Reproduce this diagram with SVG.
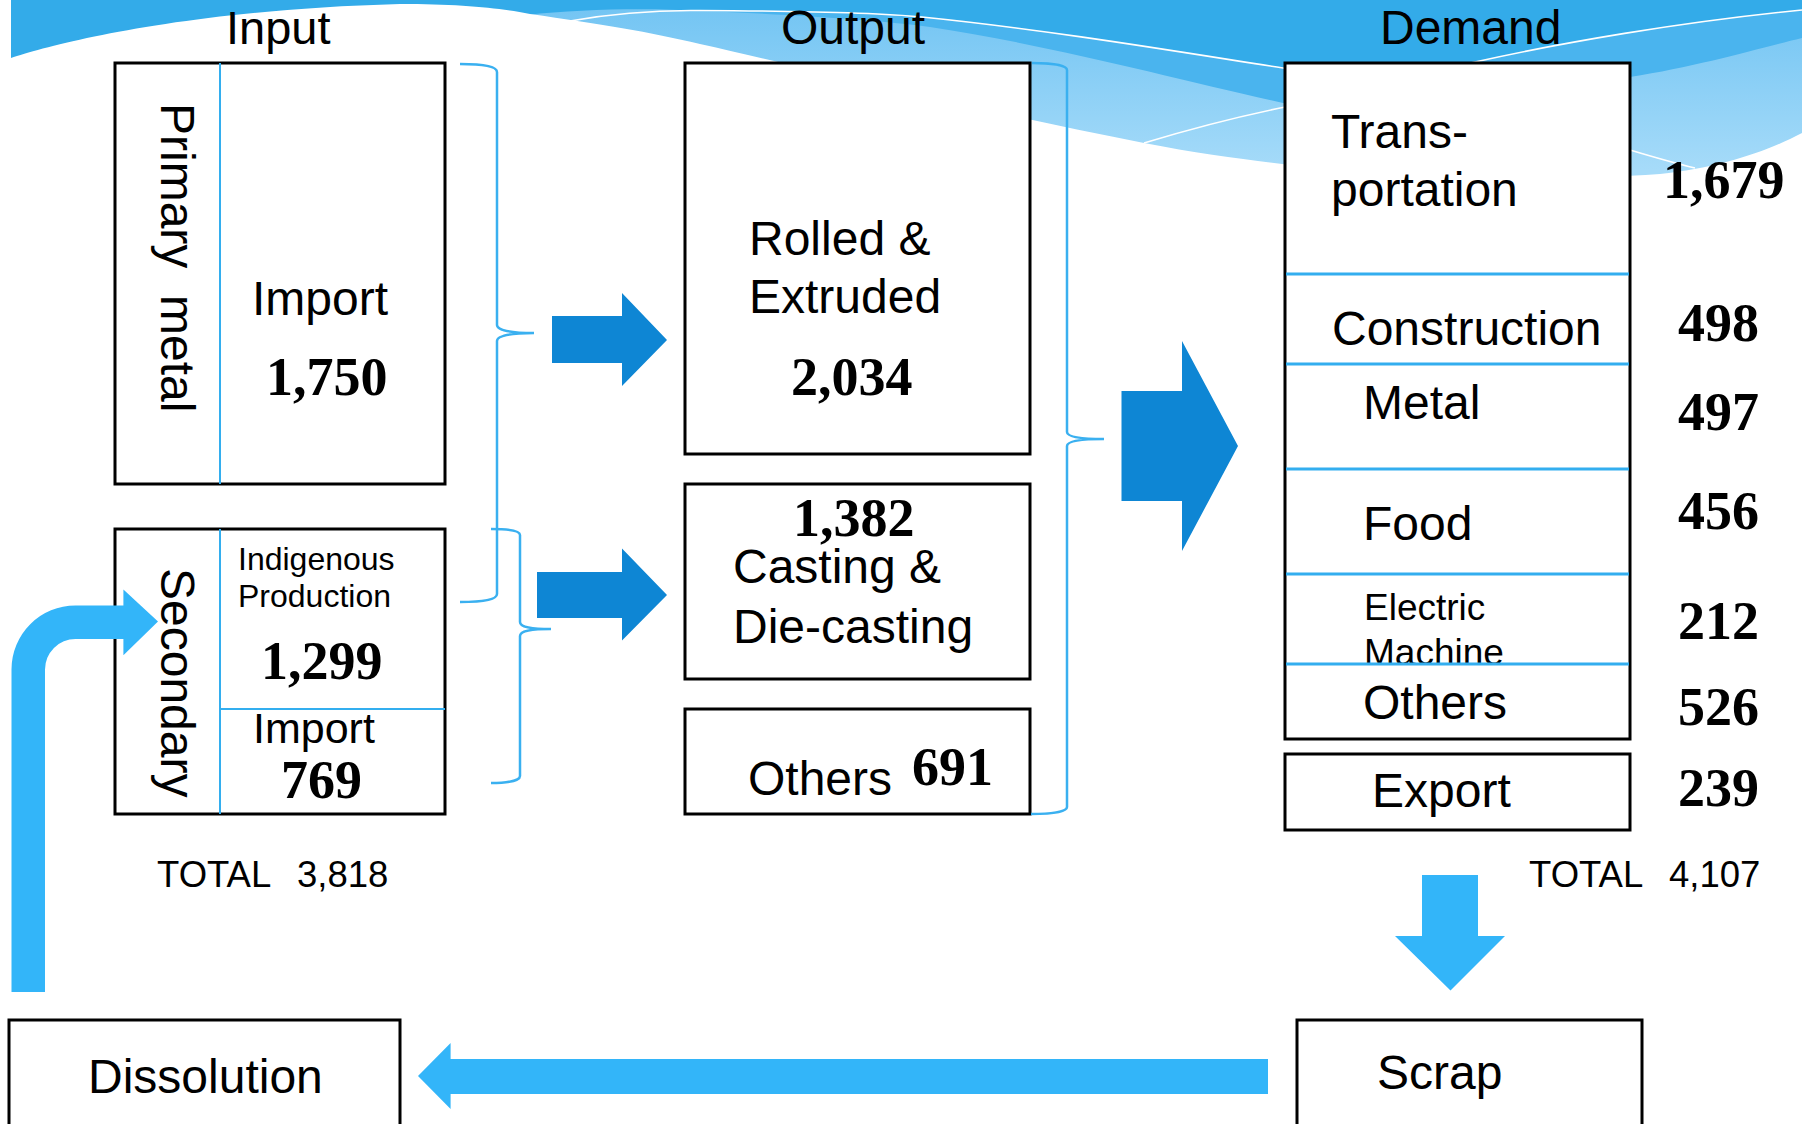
<svg xmlns="http://www.w3.org/2000/svg" width="1802" height="1124" viewBox="0 0 1802 1124">
<defs>
<linearGradient id="lg" gradientUnits="userSpaceOnUse" x1="0" y1="10" x2="0" y2="170">
<stop offset="0" stop-color="#74C5F3"/><stop offset="1" stop-color="#A6DBF9"/>
</linearGradient>
<style>
.box{fill:#fff;stroke:#000;stroke-width:3}
.sep{stroke:#33AEEF;stroke-width:3;fill:none}
.thin{stroke:#33AEEF;stroke-width:2;fill:none}
.brace{stroke:#3AB0F0;stroke-width:2.5;fill:none}
.t{font-family:"Liberation Sans",Arial,sans-serif;font-size:48px;fill:#000}
.s{font-size:32px}
.m{font-size:37px}
.tot{font-size:36.5px}
.n{font-family:"Liberation Serif","Times New Roman",serif;font-weight:bold;font-size:54px;fill:#000}
.dark{fill:#0E86D4}
.light{fill:#33B5F9}
.wl{fill:none;stroke:#fff;stroke-width:1.6}
</style>
</defs>
<rect x="0" y="0" width="1802" height="1124" fill="#fff"/>
<g id="banner">
<rect x="11" y="0" width="1791" height="300" fill="#33ABE9"/>
<path d="M570,21 C620,12 660,10 700,10.5 C800,11 880,13 922,17 C1050,30 1180,52 1283,68 C1350,78 1420,76 1475,62 C1560,43 1680,22 1802,10 V300 H570 Z" fill="#4AB4EE"/>
<path d="M527,15 C580,9 650,8 700,11 C780,14 880,20 930,27 C1050,45 1180,80 1283,103 C1400,110 1530,92 1630,77 C1700,66 1760,48 1802,38 V300 H527 Z" fill="url(#lg)"/>
<path d="M11,58 C50,45 180,10 400,4 C460,4 500,8 530,14 C600,24 650,32 700,44 C800,66 950,105 1144,143 C1200,154 1250,160 1290,165 C1400,178 1550,182 1660,174 C1720,168 1770,150 1802,133 V300 H0 V0 H11 Z" fill="#fff"/>
<path class="wl" d="M570,21 C620,12 660,10 700,10.5 C800,11 880,13 922,17 C1050,30 1180,52 1283,68 C1350,78 1420,76 1475,62 C1560,43 1680,22 1802,10"/>
<path class="wl" d="M1144,143 C1200,126 1250,114 1290,106"/>
<path class="wl" d="M1630,150 C1650,156 1670,162 1695,168"/>
</g>
<g id="headers">
<text class="t" x="226" y="44" style="font-size:47px">Input</text>
<text class="t" x="781" y="44">Output</text>
<text class="t" x="1380" y="44">Demand</text>
</g>
<g id="primary">
<rect class="box" x="115" y="63" width="330" height="421"/>
<line class="thin" x1="220" y1="63" x2="220" y2="484"/>
<text class="t" transform="translate(161,103) rotate(90)" xml:space="preserve" style="font-size:48px;white-space:pre">Primary  metal</text>
<text class="t" x="252" y="315">Import</text>
<text class="n" x="266" y="395">1,750</text>
</g>
<g id="secondary">
<rect class="box" x="115" y="529" width="330" height="285"/>
<line class="thin" x1="220" y1="529" x2="220" y2="814"/>
<line class="thin" x1="220" y1="709" x2="445" y2="709"/>
<text class="t" transform="translate(161,568) rotate(90)" style="font-size:48px">Secondary</text>
<text class="t s" x="238" y="570">Indigenous</text>
<text class="t s" x="238" y="607">Production</text>
<text class="n" x="261" y="679">1,299</text>
<text class="t" x="253" y="743" style="font-size:43px">Import</text>
<text class="n" x="281" y="798">769</text>
</g>
<g id="input-total">
<text class="t tot" x="157" y="887">TOTAL<tspan x="297">3,818</tspan></text>
</g>
<g id="rolled">
<rect class="box" x="685" y="63" width="345" height="391"/>
<text class="t" x="749" y="255">Rolled &amp;</text>
<text class="t" x="749" y="313">Extruded</text>
<text class="n" x="791" y="395">2,034</text>
</g>
<g id="casting">
<rect class="box" x="685" y="484" width="345" height="195"/>
<text class="n" x="793" y="536">1,382</text>
<text class="t" x="733" y="583">Casting &amp;</text>
<text class="t" x="733" y="643">Die-casting</text>
</g>
<g id="output-others">
<rect class="box" x="685" y="709" width="345" height="105"/>
<text class="t" x="748" y="795">Others</text>
<text class="n" x="912" y="785">691</text>
</g>
<g id="demand">
<rect class="box" x="1285" y="63" width="345" height="676"/>
<text class="t" x="1331" y="148">Trans-</text>
<text class="t" x="1331" y="206">portation</text>
<text class="t" x="1332" y="345">Construction</text>
<text class="t" x="1363" y="419">Metal</text>
<text class="t" x="1363" y="540">Food</text>
<text class="t m" x="1364" y="620">Electric</text>
<text class="t m" x="1364" y="665">Machine</text>
<text class="t" x="1363" y="719">Others</text>
<line class="sep" x1="1286" y1="274" x2="1629" y2="274"/>
<line class="sep" x1="1286" y1="364" x2="1629" y2="364"/>
<line class="sep" x1="1286" y1="469" x2="1629" y2="469"/>
<line class="sep" x1="1286" y1="574" x2="1629" y2="574"/>
<line class="sep" x1="1286" y1="664" x2="1629" y2="664"/>
</g>
<g id="export">
<rect class="box" x="1285" y="754" width="345" height="76"/>
<text class="t" x="1372" y="807">Export</text>
</g>
<g id="demand-values">
<text class="n" x="1663" y="198">1,679</text>
<text class="n" x="1678" y="341">498</text>
<text class="n" x="1678" y="430">497</text>
<text class="n" x="1678" y="529">456</text>
<text class="n" x="1678" y="639">212</text>
<text class="n" x="1678" y="725">526</text>
<text class="n" x="1678" y="806">239</text>
<text class="t tot" x="1529" y="887">TOTAL<tspan x="1669">4,107</tspan></text>
</g>
<g id="scrap">
<rect class="box" x="1297" y="1020" width="345" height="130"/>
<text class="t" x="1377" y="1089">Scrap</text>
</g>
<g id="dissolution">
<rect class="box" x="9" y="1020" width="391" height="130"/>
<text class="t" x="88" y="1093">Dissolution</text>
</g>
<g id="connectors">
<path class="brace" d="M460,64 C480,64 497,66 497,72 V325 C497,330 510,333 534,333 C510,333 497,336 497,341 V594 C497,600 480,602 460,602"/>
<path class="brace" d="M491,529 C505,529 520,530 520,535 V622 C520,627 530,629 551,629 C530,629 520,631 520,636 V776 C520,781 505,783 491,783"/>
<path class="brace" d="M1032,63 C1050,63 1067,65 1067,70 V432 C1067,437 1080,439 1104,439 C1080,439 1067,441 1067,446 V807 C1067,812 1050,814 1031,814"/>
<polygon class="dark" points="552,316 622,316 622,293 667,340 622,386 622,363 552,363"/>
<polygon class="dark" points="537,572 622,572 622,548.5 667,595 622,640.5 622,618 537,618"/>
<polygon class="dark" points="1121.5,391 1182,391 1182,341 1238,446 1182,551 1182,501 1121.5,501"/>
<polygon class="light" points="1422,875 1478,875 1478,936 1505,936 1450.5,990.6 1395,936 1422,936"/>
<polygon class="light" points="1268,1059 450.6,1059 450.6,1043 418,1076 450.6,1109 450.6,1094 1268,1094"/>
<path class="light" d="M11.5,992 V669.5 A64,64 0 0 1 75.5,605.5 H123.4 V589.5 L158,621.4 L123.4,655.2 V639 H75.5 A30.5,30.5 0 0 0 45,669.5 V992 Z"/>
</g>
</svg>
